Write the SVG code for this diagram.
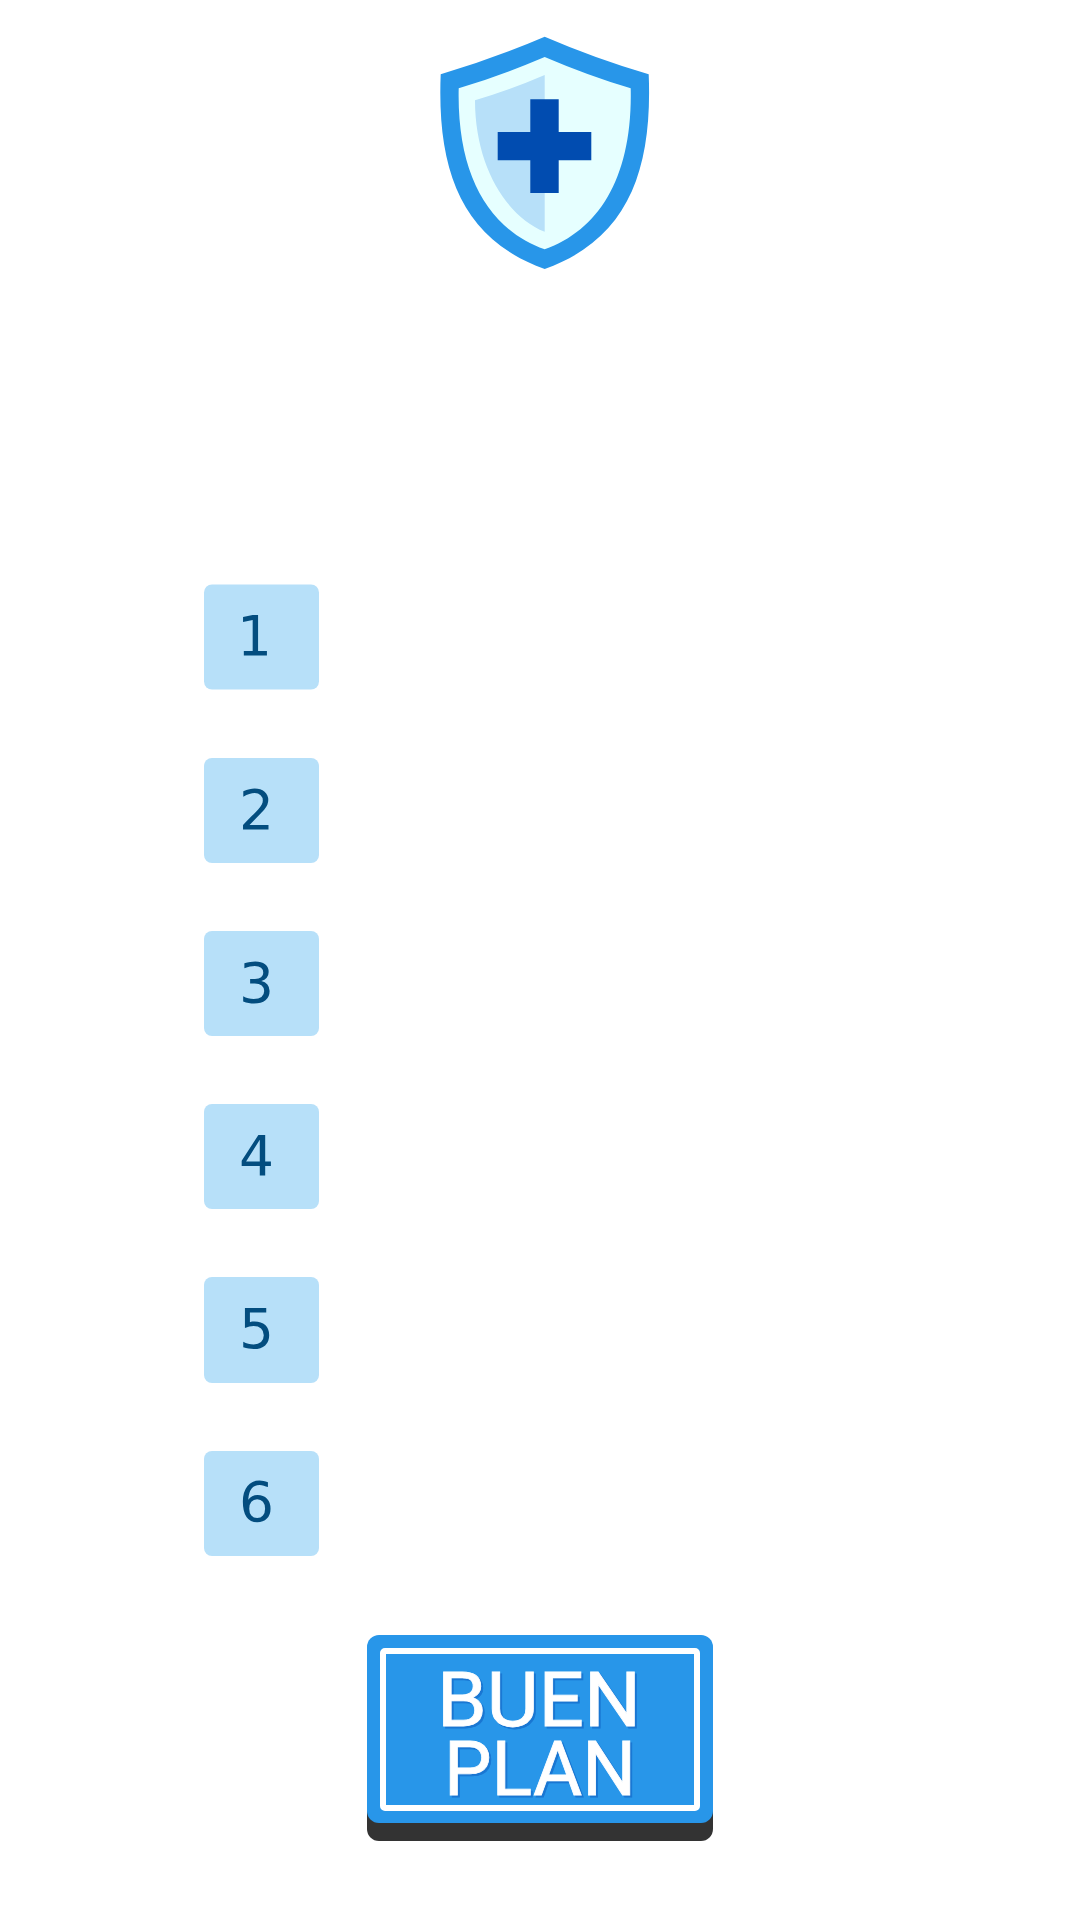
<svg xmlns="http://www.w3.org/2000/svg" width="1080" height="1920" viewBox="0 0 1080 1920">
<style>
.box{fill:#b7e0f9}
.num{font-family:"DejaVu Sans","Liberation Sans",sans-serif;font-size:55px;fill:#034d7f}
.lbl{font-family:"Roboto","Liberation Sans",sans-serif;font-size:76px;font-weight:400;fill:#ffffff;stroke:#ffffff;stroke-width:0.8px;filter:drop-shadow(2px 2px 0 #1976d2)}
</style>
<rect width="1080" height="1920" fill="#ffffff"/>
<g id="shield">
<path fill="#2896e9" d="M544.7 36.7Q495 58 440.7 74.3C436.7 173.3 463.3 240 544.7 269C626.1 240 652.7 173.3 648.7 74.3Q594 58 544.7 36.7Z"/>
<path fill="#e6ffff" d="M544.7 57Q500 76 458.7 88.3C456.7 176.7 490 230 544.7 249.3C599.4 230 632.7 176.7 630.7 88.3Q589 76 544.7 57Z"/>
<path fill="#b7e0f9" d="M544.7 75Q510 90 475 100.3C475 166.7 506.7 216.7 544.7 231.7Z"/>
<path fill="#014cb0" d="M530.3 99.3H558.7V132H591.3V160.3H558.7V193H530.3V160.3H497.7V132H530.3Z"/>
</g>
<g id="step-1"><rect class="box" x="204" y="584.5" width="115" height="105" rx="8"/><text class="num" x="237" y="655">1</text></g>
<g id="step-2"><rect class="box" x="204" y="758" width="115" height="105" rx="8"/><text class="num" x="239" y="829">2</text></g>
<g id="step-3"><rect class="box" x="204" y="931" width="115" height="105" rx="8"/><text class="num" x="239" y="1002">3</text></g>
<g id="step-4"><rect class="box" x="204" y="1104" width="115" height="105" rx="8"/><text class="num" x="239" y="1175">4</text></g>
<g id="step-5"><rect class="box" x="204" y="1277" width="115" height="106" rx="8"/><text class="num" x="239" y="1348">5</text></g>
<g id="step-6"><rect class="box" x="204" y="1451" width="115" height="105" rx="8"/><text class="num" x="239" y="1521">6</text></g>
<g id="buen-plan">
<rect x="367" y="1660" width="346" height="181" rx="12" fill="#333333"/>
<rect x="367" y="1635" width="346" height="188" rx="12" fill="#2896e9"/>
<rect x="383" y="1651" width="314" height="157" rx="2" fill="none" stroke="#ffffff" stroke-width="6"/>
<text class="lbl" x="437" y="1726" textLength="204" lengthAdjust="spacingAndGlyphs">BUEN</text>
<text class="lbl" x="444" y="1795" textLength="192" lengthAdjust="spacingAndGlyphs">PLAN</text>
</g>
</svg>
